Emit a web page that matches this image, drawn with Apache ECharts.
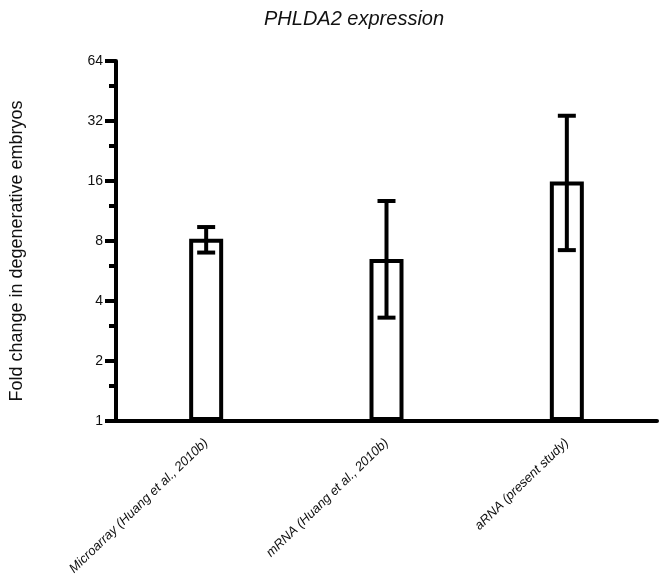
<!DOCTYPE html>
<html>
<head>
<meta charset="utf-8">
<script src="https://cdn.jsdelivr.net/npm/echarts@6/dist/echarts.min.js"></script>
<style>
  html, body { margin: 0; padding: 0; background: #fff; }
  #chart { width: 664px; height: 586px; }
</style>
</head>
<body>
<div id="chart"></div>
<script>
var categories = ['Microarray (Huang et al., 2010b)', 'mRNA (Huang et al., 2010b)', 'aRNA (present study)'];
var foldChange = [8.2, 6.5, 15.9];
var errLow = [7.0, 3.3, 7.2];
var errHigh = [9.4, 12.7, 34];
var yTicks = [1, 2, 4, 8, 16, 32, 64];
var yMinorTicks = [1.5, 3, 6, 12, 24, 48];

var myChart = echarts.init(document.getElementById('chart'));

// plot in log2 space, label with real values
var log2 = function (v) { return Math.log(v) / Math.LN2; };

var barData = foldChange.map(log2);
var errData = categories.map(function (c, i) {
    return [i, log2(errLow[i]), log2(errHigh[i])];
});

var option = {
    animation: false,
    title: {
        text: 'PHLDA2 expression',
        left: 259,
        top: 4,
        textStyle: {
            fontFamily: 'Liberation Sans',
            fontStyle: 'italic',
            fontWeight: 'normal',
            fontSize: 20,
            color: '#111'
        }
    },
    grid: {
        left: 116,
        right: 7,
        top: 61,
        bottom: 165
    },
    xAxis: {
        type: 'category',
        data: categories,
        axisLine: { lineStyle: { color: '#000', width: 4 } },
        axisTick: { alignWithLabel: true, length: 10, lineStyle: { color: '#000', width: 4 } },
        axisLabel: {
            rotate: 44,
            margin: 20,
            interval: 0,
            fontFamily: 'Liberation Sans',
            fontStyle: 'italic',
            fontSize: 13,
            color: '#111'
        },
        splitLine: { show: false }
    },
    yAxis: [
        {
            type: 'value',
            min: 0,
            max: 6,
            interval: 1,
            name: 'Fold change in degenerative embryos',
            nameLocation: 'middle',
            nameGap: 90,
            nameTextStyle: {
                fontFamily: 'Liberation Sans',
                fontSize: 18,
                color: '#111',
                padding: [0, 20, 0, 0]
            },
            axisLine: { show: true, lineStyle: { color: '#000', width: 4 } },
            axisTick: { show: true, length: 11, lineStyle: { color: '#000', width: 4 } },
            axisLabel: {
                margin: 13,
                fontFamily: 'Liberation Sans',
                fontSize: 14,
                color: '#111',
                formatter: function (v) {
                    return String(Math.round(Math.pow(2, v)));
                }
            },
            splitLine: { show: false }
        },
        {
            type: 'value',
            min: 0,
            max: 6,
            position: 'left',
            axisLine: { show: false },
            axisLabel: { show: false },
            axisTick: {
                show: true,
                length: 7,
                customValues: yMinorTicks.map(log2),
                lineStyle: { color: '#000', width: 4 }
            },
            splitLine: { show: false }
        }
    ],
    series: [
        {
            type: 'bar',
            data: barData,
            barWidth: 34,
            itemStyle: {
                color: '#fff',
                borderColor: '#000',
                borderWidth: 4
            },
            z: 2
        },
        {
            type: 'custom',
            data: errData,
            z: 3,
            renderItem: function (params, api) {
                var lo = api.coord([api.value(0), api.value(1)]);
                var hi = api.coord([api.value(0), api.value(2)]);
                var half = 9;
                var style = { stroke: '#000', lineWidth: 4 };
                return {
                    type: 'group',
                    children: [
                        { type: 'line', shape: { x1: hi[0], y1: hi[1], x2: lo[0], y2: lo[1] }, style: style },
                        { type: 'line', shape: { x1: hi[0] - half, y1: hi[1], x2: hi[0] + half, y2: hi[1] }, style: style },
                        { type: 'line', shape: { x1: lo[0] - half, y1: lo[1], x2: lo[0] + half, y2: lo[1] }, style: style }
                    ]
                };
            }
        }
    ]
};

myChart.setOption(option);
window.addEventListener('resize', function () {
    myChart.resize();
});
</script>
</body>
</html>
